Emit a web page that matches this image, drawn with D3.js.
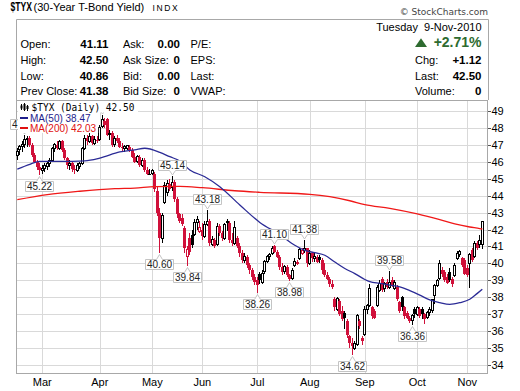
<!DOCTYPE html>
<html><head><meta charset="utf-8">
<script src="https://cdn.jsdelivr.net/npm/d3@7"></script>
<style>
html,body{margin:0;padding:0;background:#fff;}
svg{display:block;}
</style></head>
<body>
<svg id="chart" width="520" height="391"></svg>
<script>
// ---------- DATA ----------
const startDate = "2010-02-12", endDate = "2010-11-09";
const holidays = ["2010-02-15","2010-04-02","2010-05-31","2010-07-05","2010-09-06","2010-10-11"];

const open = [46.4,46.7,46.9,47.0,47.3,47.4,47.0,46.4,46.0,45.7,
45.5,45.6,45.7,45.9,46.1,46.8,47.0,46.8,47.2,46.7,46.2,45.8,45.9,45.6,45.5,45.7,45.9,46.8,47.4,47.2,47.5,47.1,47.3,
47.3,48.1,48.4,48.5,47.6,47.7,47.0,47.4,47.2,46.9,46.8,46.8,46.9,46.7,46.3,46.0,46.3,45.8,46.1,45.5,45.3,
45.3,45.3,44.3,43.0,41.5,43.6,44.2,44.7,44.5,44.8,43.8,42.9,42.7,42.1,40.4,41.5,41.7,41.7,42.4,41.9,
42.0,41.6,42.3,42.5,41.1,41.4,41.1,42.2,41.8,41.5,42.5,42.4,41.4,41.2,41.5,41.0,40.6,40.2,40.4,39.9,39.6,39.2,
39.0,39.4,38.9,39.5,40.1,40.4,40.6,41.0,40.7,40.4,39.8,39.5,39.8,39.3,39.1,39.9,40.0,40.3,40.6,40.75,40.9,
40.0,40.6,40.3,40.4,40.4,40.2,39.6,39.3,39.1,38.8,37.9,37.3,37.8,37.2,37.1,36.6,35.7,35.3,35.0,35.2,36.6,35.6,
35.8,37.3,37.5,37.4,37.2,37.5,38.4,39.1,38.5,38.9,38.6,39.0,38.5,38.6,37.7,38.0,37.4,37.1,36.8,36.65,37.3,
37.0,37.3,37.3,37.0,36.8,37.1,37.2,38.1,38.7,39.1,39.6,39.5,39.2,39.5,39.1,39.3,40.3,40.5,40.3,40.2,
39.7,40.0,40.8,40.4,41.2,41.1,41.11];
const high = [46.8,47.0,47.2,47.6,47.5,47.5,47.1,46.5,46.1,45.9,
45.8,45.9,46.0,46.2,46.9,47.1,47.2,47.3,47.3,46.8,46.3,46.1,46.0,45.8,45.9,46.0,46.9,47.6,47.6,47.7,47.6,47.5,47.5,
48.2,48.75,48.6,48.6,47.9,47.8,47.5,47.6,47.4,47.1,47.0,47.0,47.0,46.8,46.5,46.4,46.4,46.2,46.2,45.7,45.6,
45.6,45.4,44.5,43.3,43.0,44.8,44.9,45.0,45.14,44.9,43.9,43.0,42.9,42.2,41.0,41.8,42.0,42.6,42.8,42.5,
42.4,42.5,43.18,42.6,41.6,41.5,42.4,42.3,41.9,42.4,42.6,42.5,41.8,42.5,41.6,41.2,40.8,40.6,40.5,40.0,39.7,39.4,
39.2,39.5,39.6,40.2,40.5,40.6,41.0,41.1,40.8,40.5,40.0,39.9,39.9,39.4,39.7,40.3,40.2,40.9,40.9,41.38,40.9,
40.8,40.7,40.7,40.5,40.5,40.3,40.0,39.5,39.2,39.0,38.0,38.0,37.9,37.5,37.2,36.7,35.8,35.6,35.4,37.0,36.7,35.7,
37.5,37.6,38.8,37.5,37.3,38.7,39.0,39.2,38.9,39.1,39.58,39.2,39.0,38.7,37.8,38.1,37.5,37.2,36.9,37.0,37.4,
37.5,37.4,37.4,37.1,37.2,37.4,37.9,38.8,39.1,40.2,39.8,39.6,39.4,39.7,39.2,40.0,40.75,40.8,40.4,40.3,
39.9,40.6,40.9,41.3,41.3,41.7,42.50];
const low = [46.1,46.4,46.6,46.8,46.9,46.9,46.3,45.9,45.5,45.22,
45.3,45.4,45.5,45.7,46.0,46.6,46.7,46.7,46.6,46.1,45.6,45.5,45.4,45.3,45.4,45.6,45.8,46.7,47.0,47.1,47.0,47.0,47.1,
47.2,48.0,48.0,47.5,47.3,46.9,46.9,47.1,46.8,46.6,46.6,46.7,46.6,46.2,45.9,45.9,45.7,45.7,45.4,45.2,45.2,
45.2,44.2,42.8,40.6,41.2,43.5,44.0,44.3,44.3,43.6,42.7,42.4,42.2,40.6,39.84,40.5,40.9,41.6,42.0,41.8,
41.4,41.5,42.2,41.0,41.0,40.9,41.0,41.6,41.3,41.4,41.9,41.2,41.0,41.1,40.9,40.4,40.0,40.0,39.7,39.4,39.0,38.7,
38.26,38.8,38.8,39.4,40.0,40.2,40.5,40.6,40.3,39.6,39.3,39.4,39.2,38.98,39.0,39.8,39.9,40.2,40.5,40.6,39.8,
39.9,40.1,40.1,40.0,40.0,39.4,39.2,39.0,38.6,38.5,37.2,37.2,36.9,36.6,36.1,35.6,35.0,34.62,34.9,35.1,36.1,35.2,
35.7,37.0,37.4,36.7,36.7,37.4,38.3,38.3,38.3,38.5,38.5,38.6,38.4,37.8,37.1,37.2,36.7,36.7,36.5,36.36,36.8,
36.9,36.8,36.7,36.45,36.7,36.9,37.1,37.6,38.6,39.0,39.2,38.9,38.8,38.9,38.6,39.2,40.2,40.4,39.8,39.3,
39.2,38.55,40.1,40.3,40.8,40.9,40.86];
const close = [46.6,46.9,47.0,47.3,47.4,47.0,46.4,46.0,45.7,45.5,
45.6,45.8,45.9,46.1,46.8,47.0,46.8,47.2,46.7,46.2,45.8,45.9,45.6,45.5,45.8,45.9,46.8,47.4,47.2,47.5,47.1,47.3,47.2,
48.0,48.5,48.2,47.6,47.7,47.0,47.4,47.2,46.9,46.8,46.9,46.95,46.7,46.3,46.0,46.3,45.8,46.1,45.5,45.3,45.3,
45.5,44.4,43.0,41.5,42.8,44.6,44.7,44.4,44.8,43.8,42.9,42.5,42.3,40.9,40.8,40.7,41.1,42.4,42.6,42.1,
41.6,42.3,42.5,41.2,41.4,41.0,42.2,41.8,41.5,42.3,42.4,41.4,41.2,42.1,41.0,40.6,40.2,40.4,39.9,39.6,39.2,38.9,
38.7,39.0,39.4,40.1,40.4,40.5,40.9,40.7,40.4,39.8,39.5,39.8,39.3,39.1,39.6,40.1,40.05,40.8,40.75,40.9,40.0,
40.6,40.3,40.4,40.1,40.2,39.6,39.3,39.1,38.8,38.6,37.4,37.9,37.0,36.7,36.8,35.8,35.3,35.1,35.25,36.9,36.3,35.4,
37.3,37.5,38.5,36.9,36.8,38.6,38.8,38.4,38.8,38.6,38.9,38.7,38.85,37.9,37.2,37.4,36.9,36.8,36.6,36.95,37.0,
37.4,36.9,37.0,36.7,37.1,37.3,37.85,38.7,39.0,40.0,39.4,39.0,38.85,39.0,38.8,39.9,40.6,40.7,39.9,39.4,
39.3,40.55,40.2,41.2,40.9,41.38,42.50];

const ma50Dates = ["2010-02-12","2010-02-22","2010-02-26","2010-03-10","2010-03-24","2010-04-01","2010-04-14","2010-04-22","2010-04-28","2010-05-06","2010-05-12","2010-05-18","2010-05-24","2010-06-02","2010-06-10","2010-06-22","2010-07-02","2010-07-15","2010-07-23","2010-07-29","2010-08-04","2010-08-10","2010-08-16","2010-08-20","2010-08-26","2010-09-01","2010-09-03","2010-09-10","2010-09-16","2010-09-22","2010-09-28","2010-10-04","2010-10-08","2010-10-15","2010-10-21","2010-10-27","2010-11-02","2010-11-05","2010-11-09"];
const ma50Values = [45.57,45.85,46.03,46.03,46.06,46.22,46.58,46.7,46.8,46.56,46.3,46.05,45.52,45.12,44.53,43.45,42.42,41.7,41.07,40.77,40.63,40.48,40.08,39.7,39.4,39.05,38.92,38.82,38.72,38.62,38.39,38.13,37.84,37.68,37.58,37.68,37.88,38.23,38.47];

const ma200Dates = ["2010-02-12","2010-03-03","2010-03-22","2010-04-12","2010-04-22","2010-05-04","2010-05-18","2010-06-01","2010-06-18","2010-07-02","2010-08-02","2010-08-12","2010-08-24","2010-09-01","2010-09-16","2010-10-01","2010-10-15","2010-10-25","2010-11-02","2010-11-08","2010-11-09"];
const ma200Values = [43.76,44.06,44.26,44.41,44.45,44.53,44.55,44.47,44.29,44.2,44.08,43.94,43.7,43.47,43.25,42.92,42.58,42.33,42.15,42.06,42.03];

const labelDates = ["2010-02-18","2010-02-26","2010-04-05","2010-05-06","2010-05-13","2010-05-21","2010-06-03","2010-07-01","2010-07-13","2010-07-21","2010-07-29","2010-08-25","2010-09-16","2010-09-29"];
const labelKinds = ["H","L","H","L","H","L","H","L","H","L","H","L","H","L"];

const yTickValues = [34,35,36,37,38,39,40,41,42,43,44,45,46,47,48,49];
const monthStartDates = ["2010-03-01","2010-04-01","2010-05-03","2010-06-01","2010-07-01","2010-08-02","2010-09-01","2010-10-01","2010-11-01"];
const monthLabels = ["Mar","Apr","May","Jun","Jul","Aug","Sep","Oct","Nov"];

const headerLeft = [["Open:","41.11","Ask:","0.00","P/E:"],["High:","42.50","Ask Size:","0","EPS:"],["Low:","40.86","Bid:","0.00","Last:"],["Prev Close:","41.38","Bid Size:","0","VWAP:"]];
const headerRight = [["Chg:","+1.12"],["Last:","42.50"],["Volume:","0"]];
const quoteDate = "Tuesday  9-Nov-2010";
const pctChange = "+2.71%";

// ---------- SETUP ----------
const svg = d3.select("#chart");
const SANS = "'Liberation Sans', Arial, sans-serif";
const P = {left:16, top:100, right:487.5, bottom:374};
const parse = d3.utcParse("%Y-%m-%d"), fmt = d3.utcFormat("%Y-%m-%d");
const dates = d3.utcDays(parse(startDate), d3.utcDay.offset(parse(endDate),1))
  .filter(d => d.getUTCDay()!==0 && d.getUTCDay()!==6 && !holidays.includes(fmt(d)))
  .map(fmt);
const STEP = 2.5;
const x = d3.scaleBand().domain(dates).range([16.05, 16.05 + STEP*dates.length]).padding(0);
const cx = d => x(d) + x.bandwidth()/2;
const y = d3.scaleLinear().domain([34,49]).range([365,111]);

// horizontally fit a text to a target width using a transform
function fitText(sel, x0, y0, target){
  sel.attr("x",0).attr("y",0);
  const w = sel.node().getComputedTextLength();
  const sx = w > 0 ? target / w : 1;
  sel.attr("transform",`translate(${x0},${y0}) scale(${sx},1)`);
  return sel;
}

svg.append("rect").attr("width",520).attr("height",391).attr("fill","#fff");
const defs = svg.append("defs");
defs.append("clipPath").attr("id","plotclip").append("rect").attr("x",0).attr("y",P.top+1).attr("width",P.right).attr("height",P.bottom-P.top-1);

// ---------- HEADER ----------
fitText(svg.append("text").attr("font-family",SANS).attr("font-weight","bold").attr("font-size",12)
  .attr("fill","#000").text("$TYX"), 10.5, 11, 21.5);
svg.append("text").attr("x",33.5).attr("y",11).attr("font-family",SANS).attr("font-size",11).attr("fill","#000")
  .text("(30-Year T-Bond Yield)");
svg.append("text").attr("x",152.5).attr("y",11).attr("font-family",SANS).attr("font-size",8.5)
  .attr("letter-spacing",1.6).attr("fill","#000").text("INDX");
svg.append("text").attr("x",488).attr("y",15).attr("text-anchor","end").attr("font-family","'DejaVu Sans', sans-serif")
  .attr("font-size",9).attr("fill","#444").text("\u00A9 StockCharts.com");

svg.append("path").attr("d",`M${P.left+0.5},${P.top} V19.5 H488.5 V${P.top}`).attr("fill","none").attr("stroke","#a8a8a8");

const rowY = [47.5,63.5,79.5,95];
headerLeft.forEach((r,i)=>{
  const g = svg.append("g").attr("font-family",SANS).attr("font-size",11).attr("fill","#000");
  g.append("text").attr("x",20.5).attr("y",rowY[i]).text(r[0]);
  g.append("text").attr("x",108.5).attr("y",rowY[i]).attr("text-anchor","end").attr("font-weight","bold").attr("font-size",11.5).text(r[1]);
  g.append("text").attr("x",123).attr("y",rowY[i]).text(r[2]);
  g.append("text").attr("x",180).attr("y",rowY[i]).attr("text-anchor","end").attr("font-weight","bold").attr("font-size",11.5).text(r[3]);
  g.append("text").attr("x",190.5).attr("y",rowY[i]).text(r[4]);
});
svg.append("text").attr("x",481.5).attr("y",31).attr("text-anchor","end").attr("font-family",SANS).attr("font-size",11)
  .attr("xml:space","preserve").style("white-space","pre").text(quoteDate);
svg.append("path").attr("d","M415,47 L421,38.3 L427,47 Z").attr("fill","#2e6b30");
svg.append("text").attr("x",481.5).attr("y",47.3).attr("text-anchor","end").attr("font-family",SANS).attr("font-size",14)
  .attr("font-weight","bold").attr("fill","#2e6b30").text(pctChange);
headerRight.forEach((r,i)=>{
  svg.append("text").attr("x",415).attr("y",rowY[i+1]).attr("font-family",SANS).attr("font-size",11).text(r[0]);
  svg.append("text").attr("x",481.5).attr("y",rowY[i+1]).attr("text-anchor","end").attr("font-family",SANS)
    .attr("font-size",11.5).attr("font-weight","bold").text(r[1]);
});

// ---------- GRID ----------
const grid = svg.append("g").attr("shape-rendering","crispEdges");
grid.selectAll("line.h").data(yTickValues).join("line").attr("class","h")
  .attr("x1",P.left).attr("x2",P.right).attr("y1",d=>Math.round(y(d))+0.5).attr("y2",d=>Math.round(y(d))+0.5)
  .attr("stroke","#d9d9d9");
grid.selectAll("line.v").data(monthStartDates).join("line").attr("class","v")
  .attr("x1",d=>Math.round(cx(d))+0.5).attr("x2",d=>Math.round(cx(d))+0.5).attr("y1",P.top).attr("y2",P.bottom)
  .attr("stroke","#d9d9d9");

// frame
svg.append("rect").attr("x",P.left+0.5).attr("y",P.top+0.5).attr("width",P.right-P.left-1).attr("height",P.bottom-P.top-1)
  .attr("fill","none").attr("stroke","#a8a8a8").attr("shape-rendering","crispEdges");

// axes
const yAxis = d3.axisRight(y).tickValues(yTickValues).tickSize(3).tickPadding(1).tickFormat(d3.format("d"));
const gy = svg.append("g").attr("transform",`translate(${P.right},0)`).call(yAxis);
gy.select(".domain").remove();
gy.selectAll("line").attr("stroke","#555").attr("shape-rendering","crispEdges");
gy.selectAll("text").attr("font-family",SANS).attr("font-size",11).attr("fill","#000");

const xAxis = d3.axisBottom(x).tickValues(monthStartDates).tickSize(0).tickPadding(4.5)
  .tickFormat((d,i)=>monthLabels[i]);
const gx = svg.append("g").attr("transform",`translate(0,${P.bottom})`).call(xAxis);
gx.select(".domain").remove();
gx.selectAll("text").attr("font-family",SANS).attr("font-size",11).attr("fill","#000");

// ---------- CANDLES ----------
const RED = "#d0103a";
const candles = dates.map((d,i)=>({d, o:open[i], h:high[i], l:low[i], c:close[i],
  up: i===0 ? close[i]>=open[i] : close[i]>=close[i-1]}));
const cg = svg.append("g").attr("shape-rendering","crispEdges");
candles.forEach(k=>{
  const col = k.up ? "#000" : RED;
  const xc = Math.round(cx(k.d)-0.5)+0.5;
  cg.append("line").attr("x1",xc).attr("x2",xc).attr("y1",y(k.h)).attr("y2",y(k.l)).attr("stroke",col);
  const top = y(Math.max(k.o,k.c)), bot = y(Math.min(k.o,k.c));
  if (k.c > k.o) {
    cg.append("rect").attr("x",xc-1).attr("y",top).attr("width",2).attr("height",Math.max(1,bot-top))
      .attr("fill","#fff").attr("stroke",col);
  } else {
    cg.append("rect").attr("x",xc-1.5).attr("y",top).attr("width",3).attr("height",Math.max(1,bot-top))
      .attr("fill",col);
  }
});

// ---------- MOVING AVERAGES ----------
const line = d3.line().x(p=>cx(p[0])).y(p=>y(p[1])).curve(d3.curveMonotoneX);
svg.append("path").datum(ma200Dates.map((d,i)=>[d,ma200Values[i]])).attr("d",line)
  .attr("fill","none").attr("stroke","#f01818").attr("stroke-width",1.3);
svg.append("path").datum(ma50Dates.map((d,i)=>[d,ma50Values[i]])).attr("d",line)
  .attr("fill","none").attr("stroke","#2b2b96").attr("stroke-width",1.3);

// ---------- HIGH/LOW LABELS ----------
const lg = svg.append("g").attr("clip-path","url(#plotclip)");
labelDates.forEach((d,i)=>{
  const idx = dates.indexOf(d);
  const kind = labelKinds[i];
  const v = kind==="H" ? high[idx] : low[idx];
  const px = Math.round(cx(d)-0.5)+0.5, py = y(v);
  const t = lg.append("text").attr("font-family",SANS).attr("font-size",10).attr("fill","#222")
    .attr("text-anchor","middle").text(v.toFixed(2));
  const w = t.node().getComputedTextLength() + 3, h = 10;
  const left = Math.round(px - w/2) + 0.5, right = left + Math.round(w);
  let path, boxTop;
  if (kind==="H") {
    const bottom = Math.round(py - 6) + 0.5; boxTop = bottom - h;
    path = `M${left},${boxTop} H${right} V${bottom} H${px+3} L${px},${bottom+4.5} L${px-3},${bottom} H${left} Z`;
  } else {
    boxTop = Math.round(py + 6) + 0.5; const bottom = boxTop + h;
    path = `M${left},${boxTop} H${px-3} L${px},${boxTop-5} L${px+3},${boxTop} H${right} V${bottom} H${left} Z`;
  }
  lg.insert("path","text:last-child").attr("d",path).attr("fill","#fff").attr("stroke","#c4c4c4");
  t.attr("x",px).attr("y",boxTop+8.3).raise();
});

// ---------- LEGEND ----------
const leg = svg.append("g");
leg.append("rect").attr("x",18).attr("y",P.top+1).attr("width",120).attr("height",11.5).attr("fill","#fff");
fitText(leg.append("text").attr("font-family","'DejaVu Sans Mono', 'Liberation Mono', monospace")
  .attr("font-size",10).attr("fill","#000").text("$TYX (Daily) 42.50"), 31.5, 111, 103);
// candle icon
[[21,104,110,105.5,108.5],[24,103,111,104,110],[27,105,111,106,109]].forEach(c=>{
  leg.append("line").attr("x1",c[0]+0.5).attr("x2",c[0]+0.5).attr("y1",c[1]).attr("y2",c[2]).attr("stroke","#000");
  leg.append("rect").attr("x",c[0]-0.5).attr("y",c[3]).attr("width",2).attr("height",c[4]-c[3]).attr("fill","#000");
});
const maLeg = [["MA(50) 38.47","#1e1e8c",121.5],["MA(200) 42.03","#e01010",131.5]];
maLeg.forEach(m=>{
  const t = leg.append("text").attr("x",30).attr("y",m[2]).attr("font-family",SANS).attr("font-size",10)
    .attr("fill",m[1]).text(m[0]);
  const w = t.node().getComputedTextLength();
  leg.insert("rect","text").attr("x",18).attr("y",m[2]-8.5).attr("width",w+14).attr("height",10).attr("fill","#fff");
  leg.append("line").attr("x1",20).attr("x2",28).attr("y1",m[2]-3.5).attr("y2",m[2]-3.5).attr("stroke",m[1]).attr("stroke-width",2);
});
</script>
</body></html>
